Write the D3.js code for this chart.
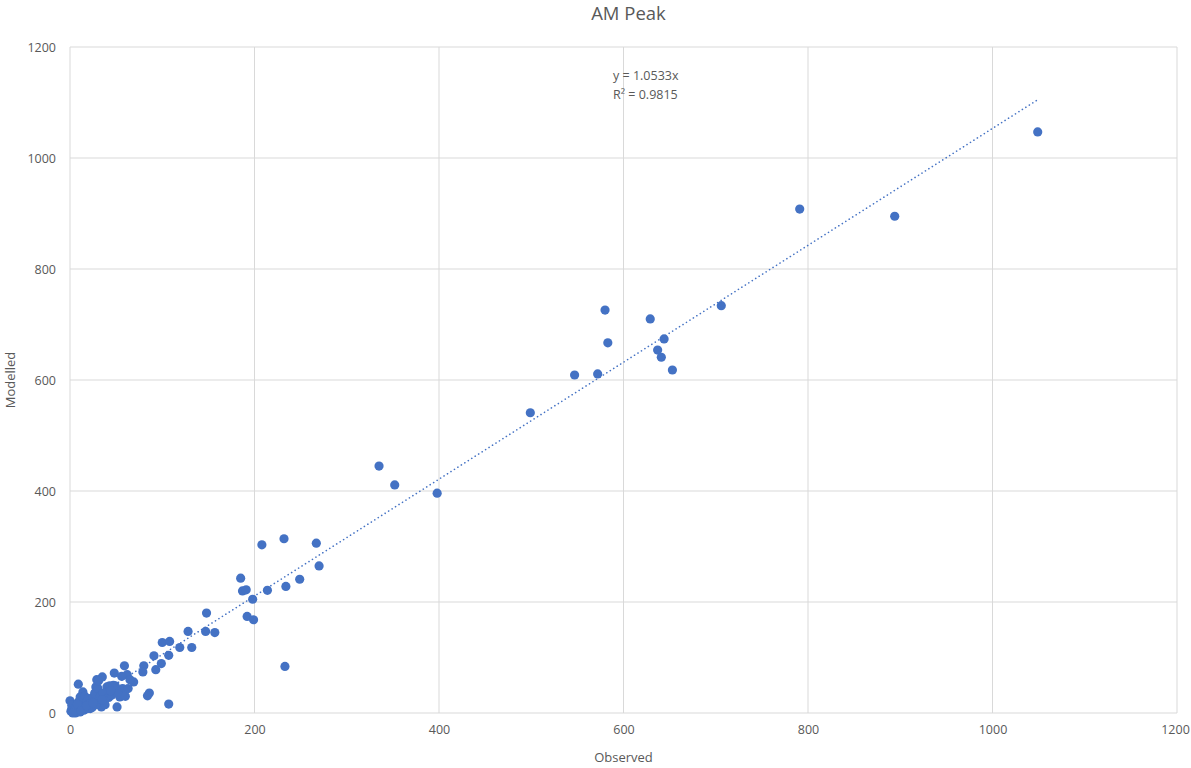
<!DOCTYPE html>
<html>
<head>
<meta charset="utf-8">
<script src="https://cdn.jsdelivr.net/npm/d3@7"></script>
<style>
  html, body { margin: 0; padding: 0; background: #fff; }
  svg { display: block; font-family: "Open Sans", "Noto Sans", sans-serif; }
</style>
</head>
<body>
<svg id="chart" width="1191" height="768"></svg>
<script>
// Observed vs modelled counts, AM peak
const observed = [
  1049, 791, 894, 706, 580, 629, 583, 644, 637, 641, 653, 547, 572, 499,
  335, 352, 398, 232, 208, 267, 270, 185, 187, 191, 214, 249, 234, 198, 192, 199, 233,
  148, 147, 157, 128, 132, 119, 100, 108, 107, 99, 91, 93, 80, 79, 86, 84, 107,
  59, 48, 62, 56, 69, 65, 57, 54, 51, 35, 29, 9, 40, 43, 49, 51, 14, 11, 28, 27, 34, 22,
  1, 0, 2, 3, 4, 5, 6, 7, 8, 9, 10, 11, 12, 13, 14, 15, 16, 17, 18, 19, 20, 21, 22,
  24, 25, 26, 27, 28, 30, 31, 32, 33, 36, 37, 38, 42, 45, 47, 52, 60, 63, 2, 4, 6, 8, 3, 12, 18, 25, 35, 44
];
const modelled = [
  1047, 908, 895, 734, 726, 710, 667, 674, 654, 641, 618, 609, 611, 541,
  445, 411, 396, 314, 303, 306, 265, 243, 220, 222, 221, 241, 228, 205, 174, 168, 84,
  180, 147, 145, 147, 118, 118, 127, 129, 104, 89, 103, 78, 85, 74, 36, 31, 16,
  85, 72, 69, 66, 56, 60, 44, 29, 11, 65, 60, 52, 47, 49, 49, 38, 38, 29, 47, 36, 11, 8,
  3, 22, 8, 1, 12, 5, 0, 15, 3, 20, 8, 2, 18, 10, 25, 5, 30, 14, 20, 8, 26, 12, 17,
  10, 28, 22, 35, 15, 45, 58, 25, 30, 36, 20, 15, 28, 32, 50, 35, 30, 44, 14, 6, 9, 16, 0, 4, 13, 18, 24, 40
];
const xTicks = [0, 200, 400, 600, 800, 1000, 1200];
const yTicks = [0, 200, 400, 600, 800, 1000, 1200];
const slope = 1.0533;
const eqLines = ["y = 1.0533x", "R² = 0.9815"];

const svg = d3.select("#chart");
const margin = { left: 70, right: 14, top: 47, bottom: 55 };
const W = 1191, H = 768;

const x = d3.scaleLinear().domain([0, 1200]).range([margin.left, W - margin.right]);
const y = d3.scaleLinear().domain([0, 1200]).range([H - margin.bottom, margin.top]);

const gridColor = "#d9d9d9";
const textColor = "#595959";
const fmt = d3.format("d");

// vertical gridlines
svg.append("g").selectAll("line").data(xTicks).join("line")
  .attr("x1", d => x(d)).attr("x2", d => x(d))
  .attr("y1", y(0)).attr("y2", y(1200))
  .attr("stroke", gridColor).attr("stroke-width", 1);

// horizontal gridlines
svg.append("g").selectAll("line").data(yTicks).join("line")
  .attr("x1", x(0)).attr("x2", x(1200))
  .attr("y1", d => y(d)).attr("y2", d => y(d))
  .attr("stroke", gridColor).attr("stroke-width", 1);

// x tick labels
const xAxis = d3.axisBottom(x).tickValues(xTicks).tickFormat(fmt).tickSize(0).tickPadding(12);
svg.append("g").attr("transform", `translate(0,${y(0)})`).call(xAxis)
  .call(g => g.select(".domain").remove())
  .call(g => g.selectAll("text").attr("fill", textColor).attr("font-size", 12.5)
    .attr("font-family", '"Open Sans", sans-serif'))
  // keep the last label inside the page edge
  .call(g => g.selectAll(".tick").filter(d => d === 1200).select("text").attr("dx", -2));

// y tick labels
const yAxis = d3.axisLeft(y).tickValues(yTicks).tickFormat(fmt).tickSize(0).tickPadding(14);
svg.append("g").attr("transform", `translate(${x(0)},0)`).call(yAxis)
  .call(g => g.select(".domain").remove())
  .call(g => g.selectAll("text").attr("fill", textColor).attr("font-size", 12.5)
    .attr("font-family", '"Open Sans", sans-serif'));

// trendline through origin, across observed range
const xMax = d3.max(observed);
svg.append("line")
  .attr("x1", x(0)).attr("y1", y(0))
  .attr("x2", x(xMax)).attr("y2", y(slope * xMax))
  .attr("stroke", "#4472c4").attr("stroke-width", 1.6)
  .attr("stroke-dasharray", "0.1,4").attr("stroke-linecap", "round");

// points
const pts = observed.map((o, i) => ({ o, m: modelled[i] }));
svg.append("g").selectAll("circle").data(pts).join("circle")
  .attr("cx", d => x(d.o)).attr("cy", d => y(d.m))
  .attr("r", 4.6).attr("fill", "#4472c4");

// trendline equation
svg.append("g").selectAll("text").data(eqLines).join("text")
  .attr("x", 613).attr("y", (d, i) => 80 + i * 19)
  .attr("fill", textColor).attr("font-size", 12.5).text(d => d);

// title
svg.append("text").attr("x", (margin.left + W - margin.right) / 2 + 5).attr("y", 20)
  .attr("text-anchor", "middle").attr("fill", textColor).attr("font-size", 18.5)
  .text("AM Peak");

// axis titles
svg.append("text").attr("x", x(600)).attr("y", 762)
  .attr("text-anchor", "middle").attr("fill", textColor).attr("font-size", 13)
  .text("Observed");
svg.append("text").attr("transform", `translate(15,${y(600)}) rotate(-90)`)
  .attr("text-anchor", "middle").attr("fill", textColor).attr("font-size", 13)
  .text("Modelled");
</script>
</body>
</html>
